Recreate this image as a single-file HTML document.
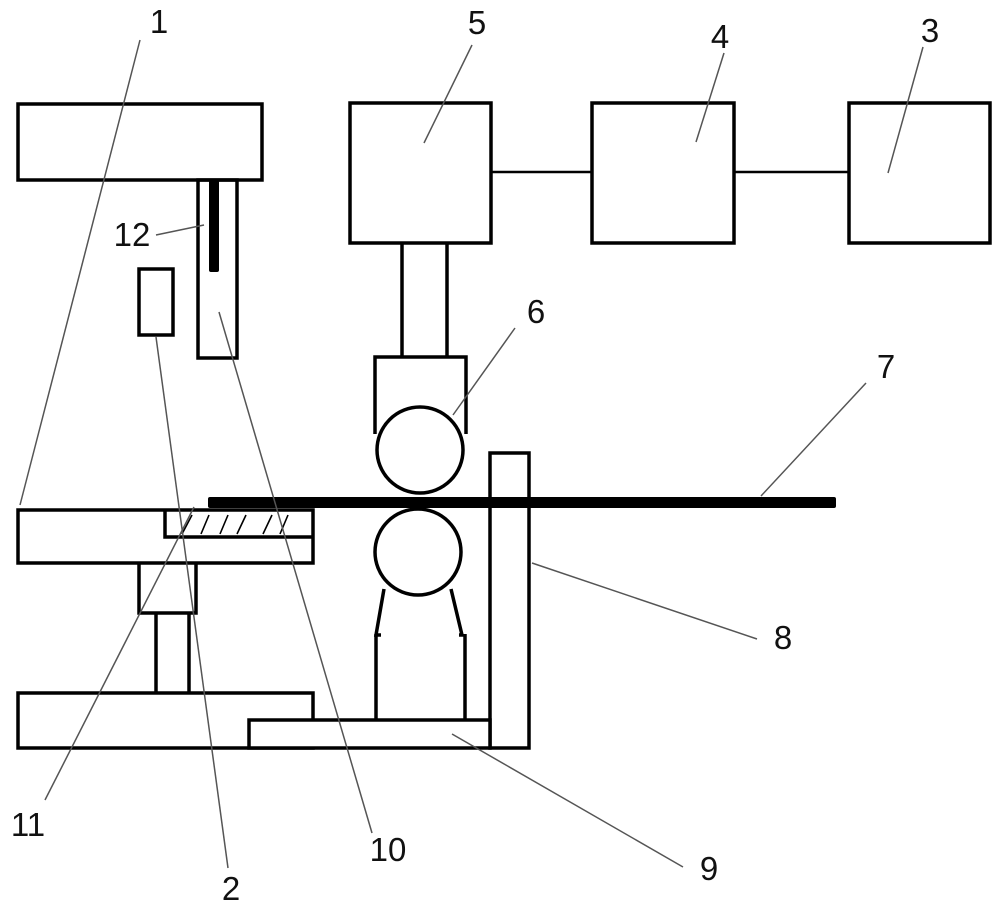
<!DOCTYPE html>
<html>
<head>
<meta charset="utf-8">
<style>
  html, body { margin:0; padding:0; background:#fff; }
  svg { display:block; }
  text { font-family: "Liberation Sans", sans-serif; font-size:33px; fill:#111; text-anchor:middle; }
</style>
</head>
<body>
<svg width="1000" height="910" viewBox="0 0 1000 910" xmlns="http://www.w3.org/2000/svg">
  <rect x="0" y="0" width="1000" height="910" fill="#fff"/>

  <!-- thick outlines -->
  <g fill="none" stroke="#000" stroke-width="3.5" stroke-linejoin="miter">
    <!-- top-left box -->
    <rect x="18" y="104" width="244" height="76" fill="#fff"/>
    <!-- housing 10 -->
    <rect x="198" y="180" width="39" height="178"/>
    <!-- small box 2 -->
    <rect x="139" y="269" width="34" height="66"/>

    <!-- boxes 5,4,3 -->
    <rect x="350" y="103" width="141" height="140"/>
    <rect x="592" y="103" width="142" height="140"/>
    <rect x="849" y="103" width="141" height="140"/>

    <!-- shaft -->
    <line x1="402" y1="243" x2="402" y2="357"/>
    <line x1="447" y1="243" x2="447" y2="357"/>
    <!-- roller holder -->
    <path d="M375,434 V357 H466 V434"/>
    <!-- rollers -->
    <circle cx="420" cy="450" r="43" fill="#fff"/>
    <circle cx="418" cy="552" r="43" fill="#fff"/>

    <!-- lower legs -->
    <path d="M384,589 L376,635 L381,635"/>
    <line x1="376" y1="634" x2="376" y2="721"/>
    <path d="M451,589 L462,635 L459,635"/>
    <line x1="465" y1="634" x2="465" y2="721"/>

    <!-- column 8 -->
    <rect x="490" y="453" width="39" height="295"/>

    <!-- top plate -->
    <rect x="18" y="510" width="295" height="53"/>
    <path d="M165,510 V537 H313"/>
    <!-- block under plate -->
    <path d="M139,563 V613 H196 V563"/>
    <line x1="156" y1="613" x2="156" y2="694"/>
    <line x1="189" y1="613" x2="189" y2="694"/>

    <!-- base -->
    <rect x="18" y="693" width="295" height="55"/>
    <!-- slider 9 -->
    <rect x="249" y="720" width="241" height="28" fill="#fff"/>
  </g>

  <!-- connectors between boxes -->
  <g stroke="#000" stroke-width="2.5">
    <line x1="491" y1="172" x2="592" y2="172"/>
    <line x1="734" y1="172" x2="849" y2="172"/>
  </g>

  <!-- bar 12 -->
  <rect x="209" y="180" width="10" height="92" rx="2" fill="#000"/>

  <!-- sheet 7 -->
  <rect x="208" y="497" width="628" height="11" rx="2" fill="#000"/>

  <!-- hatch -->
  <g stroke="#000" stroke-width="1.6">
    <line x1="182" y1="534" x2="192" y2="515"/>
    <line x1="201" y1="534" x2="209" y2="515"/>
    <line x1="220" y1="534" x2="228" y2="515"/>
    <line x1="237" y1="534" x2="246" y2="515"/>
    <line x1="263" y1="534" x2="272" y2="515"/>
    <line x1="280" y1="534" x2="288" y2="515"/>
  </g>

  <!-- leader lines -->
  <g stroke="#555" stroke-width="1.5" fill="none">
    <line x1="140" y1="40" x2="20" y2="505"/>
    <line x1="472" y1="45" x2="424" y2="143"/>
    <line x1="724" y1="53" x2="696" y2="142"/>
    <line x1="923" y1="47" x2="888" y2="173"/>
    <line x1="156" y1="235" x2="204" y2="225"/>
    <line x1="156" y1="337" x2="228" y2="868"/>
    <line x1="219" y1="312" x2="372" y2="833"/>
    <line x1="194" y1="507" x2="45" y2="800"/>
    <line x1="453" y1="415" x2="515" y2="328"/>
    <line x1="761" y1="496" x2="866" y2="383"/>
    <line x1="532" y1="563" x2="757" y2="639"/>
    <line x1="452" y1="734" x2="683" y2="867"/>
  </g>

  <!-- labels -->
  <text x="159" y="33">1</text>
  <text x="477" y="34">5</text>
  <text x="720" y="48">4</text>
  <text x="930" y="42">3</text>
  <text x="132" y="246">12</text>
  <text x="536" y="323">6</text>
  <text x="886" y="378">7</text>
  <text x="783" y="649">8</text>
  <text x="709" y="880">9</text>
  <text x="388" y="861">10</text>
  <text x="28" y="836">11</text>
  <text x="231" y="900">2</text>
</svg>
</body>
</html>
